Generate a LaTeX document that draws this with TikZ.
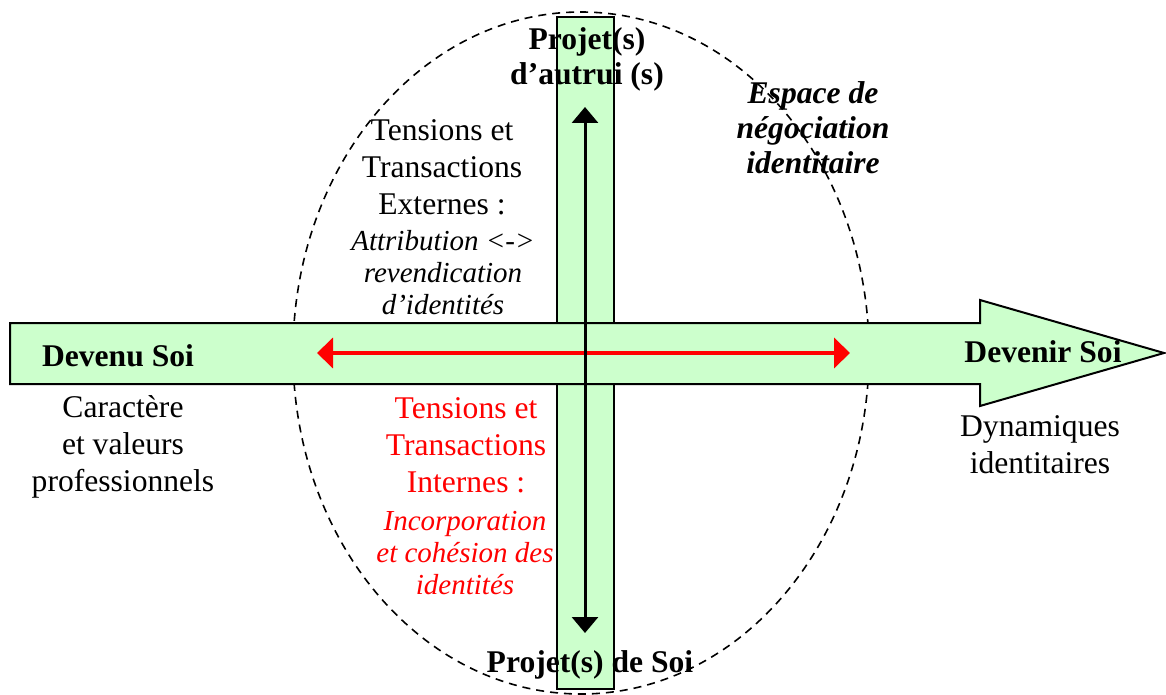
\documentclass[tikz,border=0pt]{standalone}
\usepackage{fontspec}
\setmainfont{Liberation Serif}
\usetikzlibrary{arrows.meta}

\definecolor{palegreen}{RGB}{204,255,204}

\begin{document}
\begin{tikzpicture}[x=0.5pt, y=-0.5pt,
    txt/.style={inner sep=0pt, align=center, font=\fontsize{15.8}{18.5}\selectfont},
    ital/.style={inner sep=0pt, align=center, font=\fontsize{14.5}{16}\selectfont\itshape},
    head/.style={inner sep=0pt, align=center, font=\fontsize{15.8}{17.5}\selectfont\bfseries}]
  \useasboundingbox (0,0) rectangle (1166,695);

  % negotiation space
  \draw[dash pattern=on 4pt off 3pt, line width=0.8pt] (581,353) ellipse [x radius=288, y radius=341];

  % the two bars
  \draw[fill=palegreen, line width=1pt] (557,17) rectangle (614,689);
  \draw[fill=palegreen, line width=1pt]
    (10,323) -- (980,323) -- (980,300) -- (1164,353) -- (980,406) -- (980,384) -- (10,384) -- cycle;

  \coordinate (left) at (317,353);
  \coordinate (right) at (850,353);
  \coordinate (up) at (585,107);
  \coordinate (down) at (585,633);
  \draw[{Triangle[length=8pt, width=15pt]}-{Triangle[length=8pt, width=15pt]}, red, line width=2pt] (left) -- (right);
  \draw[{Triangle[length=8pt, width=13pt]}-{Triangle[length=8pt, width=13pt]}, line width=1.5pt] (up) -- (down);

  \node (autrui) [head] at (587,59) {Projet(s)\\d’autrui (s)};
  \node (soi) [head] at (590,665) {Projet(s) de Soi};
  \node (espace) [head, font=\fontsize{15.8}{17.5}\selectfont\bfseries\itshape] at (813,128) {Espace de\\négociation\\identitaire};

  \node (externes) [txt] at (442,167) {Tensions et\\Transactions\\Externes :};
  \node (attrib) [ital] at (443,273) {Attribution <->\\revendication\\d’identités};

  \node (internes) [txt, red] at (466,445) {Tensions et\\Transactions\\Internes :};
  \node (incorp) [ital, red] at (465,553) {Incorporation\\et cohésion des\\identités};

  \node (devenu) [head] at (118,356) {Devenu Soi};
  \node (devenir) [head] at (1043,352) {Devenir Soi};
  \node (caract) [txt] at (123,447) {Caractère\\et valeurs\\professionnels};
  \node (dyn) [txt] at (1040,445) {Dynamiques\\identitaires};
\end{tikzpicture}
\end{document}
